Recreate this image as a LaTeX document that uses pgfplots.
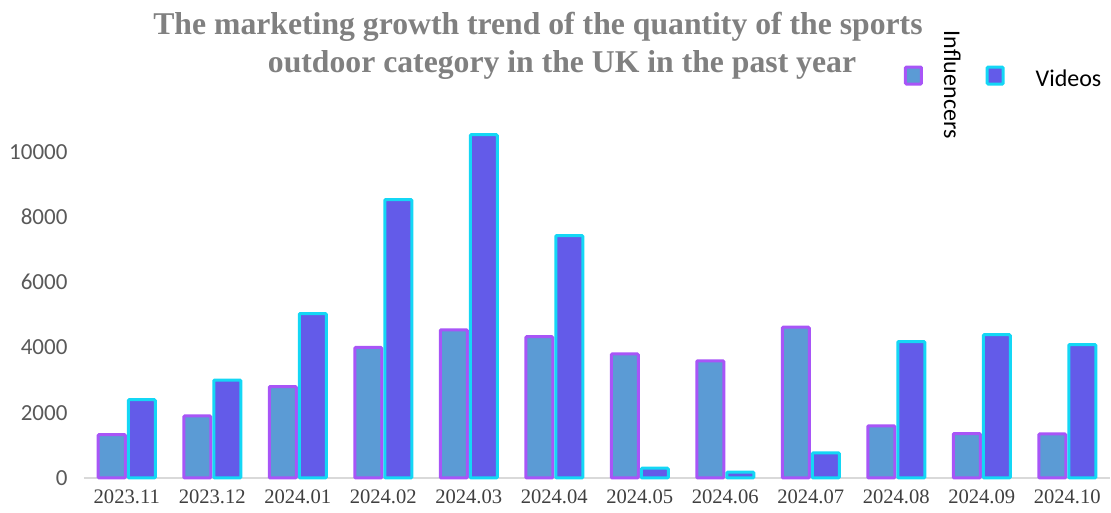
\documentclass[border=0pt]{standalone}
\usepackage{pgfplots}
\pgfplotsset{compat=1.18}
\usepackage{pgfplotstable}
\usepackage{fontspec}
\usepackage{graphicx}
\setmainfont{Liberation Serif}
\newfontfamily\calibri{Carlito}
\definecolor{infFill}{RGB}{91,155,213}
\definecolor{infLine}{RGB}{168,85,247}
\definecolor{vidFill}{RGB}{99,91,233}
\definecolor{vidLine}{RGB}{20,215,245}
\definecolor{titlegray}{RGB}{128,128,128}
\definecolor{ticky}{RGB}{89,89,89}
\definecolor{tickx}{RGB}{64,64,64}
\definecolor{axisgray}{RGB}{217,217,217}

\pgfplotstableread{
idx infl videos
0  1330  2400
1  1900  3000
2  2800  5040
3  4000  8530
4  4540  10520
5  4330  7430
6  3800  300
7  3590  180
8  4620  770
9  1600  4180
10 1360  4390
11 1350  4090
}\datatable

\begin{document}
\begin{tikzpicture}[x=1pt,y=1pt]
\path[use as bounding box] (0,0) rectangle (1111,513);
\begin{axis}[
  at={(84pt,35pt)}, anchor=south west,
  scale only axis, width=1026pt, height=359pt,
  xmin=-0.5, xmax=11.5, ymin=0, ymax=11000,
  ybar=3pt, bar width=27pt,
  xtick={0,...,11},
  xticklabels={2023.11,2023.12,2024.01,2024.02,2024.03,2024.04,2024.05,2024.06,2024.07,2024.08,2024.09,2024.10},
  ytick={0,2000,4000,6000,8000,10000},
  major tick length=0pt,
  axis x line*=bottom, axis y line*=left,
  x axis line style={draw=axisgray, line width=1.5pt, -},
  y axis line style={draw=none},
  scaled y ticks=false,
  /pgf/number format/assume math mode=true,
  /pgf/number format/1000 sep={},
  yticklabel style={font=\calibri\fontsize{23}{27}\selectfont, text=ticky, xshift=-13pt},
  xticklabel style={font=\fontsize{20.6}{24}\selectfont, text=tickx, yshift=-8pt},
  clip=false,
  legend columns=2,
  legend style={draw=none, fill=none, at={(0.9032,1.121)}, anchor=center,
    font=\calibri\fontsize{24}{28}\selectfont,
    /tikz/every even column/.append style={column sep=9pt},
    nodes={inner xsep=16pt}},
  legend image code/.code={\draw[#1,line width=3pt,rounded corners=1pt] (0pt,-8.5pt) rectangle (16pt,8.5pt);},
]
\addplot[fill=infFill, draw=infLine, line width=3pt, rounded corners=1pt] table[x=idx, y=infl] {\datatable};
\addlegendentry{\hspace{5pt}\raisebox{26pt}{\rotatebox[origin=c]{-90}{Influencers}}}
\addplot[fill=vidFill, draw=vidLine, line width=3pt, rounded corners=1pt] table[x=idx, y=videos] {\datatable};
\addlegendentry{\hspace{15pt}\raisebox{-6pt}{Videos}}
\end{axis}
\node[font=\bfseries\fontsize{31.7}{36}\selectfont, text=titlegray, anchor=base] at (538,478) {The marketing growth trend of the quantity of the sports};
\node[font=\bfseries\fontsize{31.7}{36}\selectfont, text=titlegray, anchor=base] at (562,440) {outdoor category in the UK in the past year};
\end{tikzpicture}
\end{document}
